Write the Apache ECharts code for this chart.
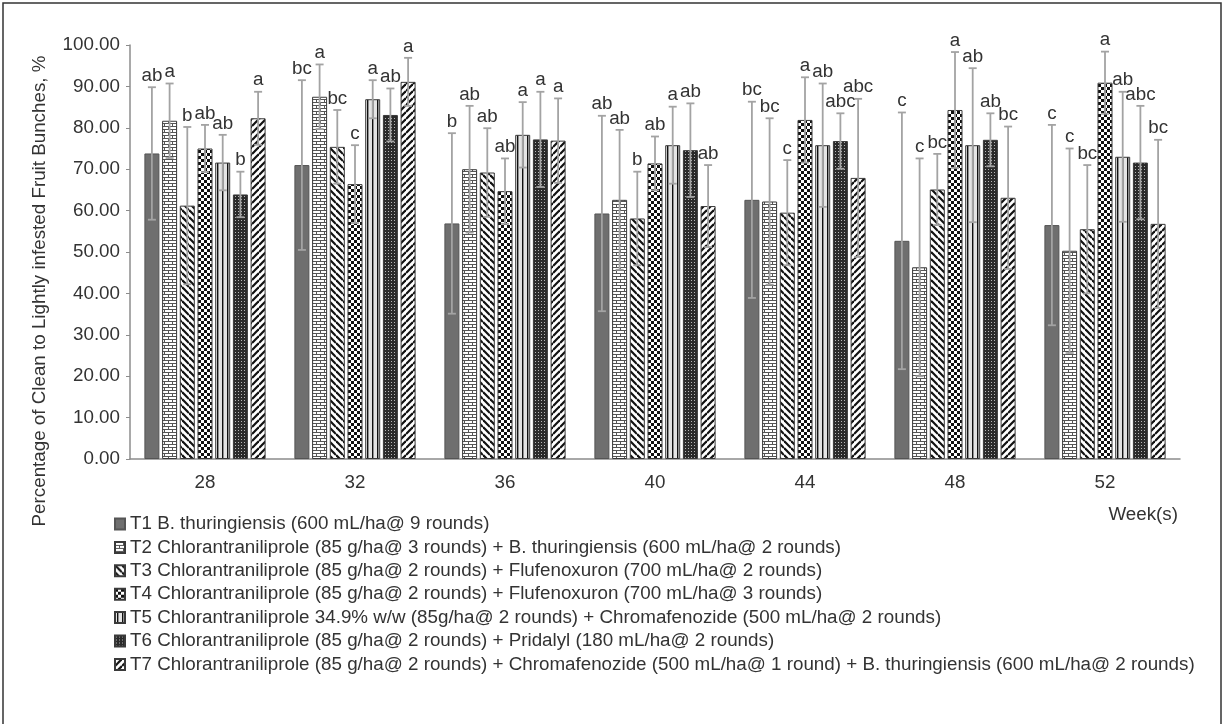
<!DOCTYPE html>
<html lang="en">
<head>
	<meta charset="UTF-8">
	<title>Clean to lightly infested fruit bunches</title>
	<style>
		html, body { margin: 0; padding: 0; background: #fff; }
	</style>
</head>
<body>
	<div id="main" style="width: 1223px;height: 724px"></div>
	<script src="https://cdn.jsdelivr.net/npm/echarts@6/dist/echarts.min.js"></script>
	<script>
		// weeks on the x axis
		var weeks = ['28', '32', '36', '40', '44', '48', '52'];
		var yTicks = [0, 10, 20, 30, 40, 50, 60, 70, 80, 90, 100];

		var treatments = [
			'T1 B. thuringiensis (600 mL/ha@ 9 rounds)',
			'T2 Chlorantraniliprole (85 g/ha@ 3 rounds) + B. thuringiensis (600 mL/ha@ 2 rounds)',
			'T3 Chlorantraniliprole (85 g/ha@ 2 rounds) + Flufenoxuron (700 mL/ha@ 2 rounds)',
			'T4 Chlorantraniliprole (85 g/ha@ 2 rounds) + Flufenoxuron (700 mL/ha@ 3 rounds)',
			'T5 Chlorantraniliprole 34.9% w/w (85g/ha@ 2 rounds) + Chromafenozide (500 mL/ha@ 2 rounds)',
			'T6 Chlorantraniliprole (85 g/ha@ 2 rounds) + Pridalyl (180 mL/ha@ 2 rounds)',
			'T7 Chlorantraniliprole (85 g/ha@ 2 rounds) + Chromafenozide (500 mL/ha@ 1 round) + B. thuringiensis (600 mL/ha@ 2 rounds)'
		];

		// means, error (+/-) and letters for each treatment, one value per week
		var t1 = [73.8, 71.0, 56.9, 59.3, 62.6, 52.7, 56.5];
		var t1Err = [16.0, 20.5, 21.8, 23.6, 23.7, 31.0, 24.2];
		var t1Sig = ['ab', 'bc', 'b', 'ab', 'bc', 'c', 'c'];

		var t2 = [81.7, 87.5, 70.0, 62.6, 62.2, 46.3, 50.3];
		var t2Err = [9.0, 7.8, 15.3, 16.9, 20.1, 26.3, 24.7];
		var t2Sig = ['a', 'a', 'ab', 'ab', 'bc', 'c', 'c'];

		var t3 = [61.2, 75.4, 69.2, 58.1, 59.5, 65.1, 55.5];
		var t3Err = [19.0, 8.9, 10.7, 11.3, 12.7, 8.6, 15.5];
		var t3Sig = ['b', 'bc', 'ab', 'b', 'c', 'bc', 'bc'];

		var t4 = [75.0, 66.4, 64.7, 71.4, 81.9, 84.3, 90.9];
		var t4Err = [5.7, 9.4, 7.9, 6.5, 10.3, 14.0, 7.5];
		var t4Sig = ['ab', 'c', 'ab', 'ab', 'a', 'a', 'a'];

		var t5 = [71.6, 86.9, 78.3, 75.8, 75.8, 75.8, 73.0];
		var t5Err = [6.7, 4.6, 7.9, 9.3, 14.9, 18.6, 15.7];
		var t5Sig = ['ab', 'a', 'a', 'a', 'ab', 'ab', 'ab'];

		var t6 = [63.9, 83.1, 77.2, 74.6, 76.8, 77.1, 71.6];
		var t6Err = [5.5, 6.4, 11.5, 11.3, 6.7, 6.4, 13.7];
		var t6Sig = ['b', 'ab', 'a', 'ab', 'abc', 'ab', 'abc'];

		var t7 = [82.3, 91.1, 76.9, 61.1, 67.9, 63.1, 56.8];
		var t7Err = [6.4, 5.8, 10.2, 9.9, 19.1, 17.2, 20.3];
		var t7Sig = ['a', 'a', 'a', 'ab', 'abc', 'bc', 'bc'];

		var means = [t1, t2, t3, t4, t5, t6, t7];
		var errs = [t1Err, t2Err, t3Err, t4Err, t5Err, t6Err, t7Err];
		var sigs = [t1Sig, t2Sig, t3Sig, t4Sig, t5Sig, t6Sig, t7Sig];

		var FONT = '"Liberation Sans", Arial, sans-serif';
		var FS = 18.8;
		var BAR_W = 15;
		var BAR_GAP = 0.18;

		// little canvas tiles for the bar fills
		function tile(w, h, draw) {
			var c = document.createElement('canvas');
			c.width = w;
			c.height = h;
			draw(c.getContext('2d'), w, h);
			return { image: c, repeat: 'repeat' };
		}

		var fills = [
			'#6f6f6f',
			tile(8, 6, function (g) {
				g.fillStyle = '#fff'; g.fillRect(0, 0, 8, 6);
				g.fillStyle = '#555';
				g.fillRect(0, 0, 8, 1); g.fillRect(0, 3, 8, 1);
				g.fillRect(0, 0, 1, 3); g.fillRect(4, 3, 1, 3);
			}),
			tile(7, 7, function (g, s) {
				g.fillStyle = '#fff'; g.fillRect(0, 0, s, s);
				g.strokeStyle = '#111'; g.lineWidth = 2.2;
				[-1, 0, 1].forEach(function (k) {
					g.beginPath(); g.moveTo(0, k * s); g.lineTo(s, s + k * s); g.stroke();
				});
			}),
			tile(6, 6, function (g) {
				g.fillStyle = '#fff'; g.fillRect(0, 0, 6, 6);
				g.fillStyle = '#111'; g.fillRect(0, 0, 3, 3); g.fillRect(3, 3, 3, 3);
			}),
			tile(5, 2, function (g) {
				g.fillStyle = '#e4e4e4'; g.fillRect(0, 0, 5, 2);
				g.fillStyle = '#111'; g.fillRect(2, 0, 1.4, 2);
			}),
			tile(3, 3, function (g) {
				g.fillStyle = '#2a2a2a'; g.fillRect(0, 0, 3, 3);
				g.fillStyle = '#b5b5b5'; g.fillRect(1, 1, 1, 1);
			}),
			tile(7, 7, function (g, s) {
				g.fillStyle = '#fff'; g.fillRect(0, 0, s, s);
				g.strokeStyle = '#111'; g.lineWidth = 2.2;
				[0, 1, 2].forEach(function (k) {
					g.beginPath(); g.moveTo(0, k * s); g.lineTo(s, k * s - s); g.stroke();
				});
			})
		];

		var series = treatments.map(function (name, i) {
			return {
				name: name,
				type: 'bar',
				barWidth: BAR_W,
				barGap: (BAR_GAP * 100) + '%',
				itemStyle: {
					color: fills[i],
					borderColor: i === 0 ? '#555' : '#3a3a3a',
					borderWidth: 1
				},
				data: means[i]
			};
		});

		// error bars + letters
		var errItems = [];
		means.forEach(function (arr, i) {
			arr.forEach(function (v, w) {
				errItems.push([w, i, v, errs[i][w]]);
			});
		});

		series.push({
			type: 'custom',
			silent: true,
			encode: { x: 0, y: 2 },
			z: 5,
			data: errItems,
			renderItem: function (params, api) {
				var w = api.value(0), i = api.value(1), v = api.value(2), e = api.value(3);
				var step = BAR_W * (1 + BAR_GAP);
				var x = api.coord([w, v])[0] + (i - 3) * step;
				var yHi = api.coord([w, v + e])[1];
				var yLo = api.coord([w, v - e])[1];
				var ls = { stroke: '#a3a3a3', lineWidth: 1.8 };
				return {
					type: 'group',
					children: [
						{ type: 'line', shape: { x1: x, y1: yLo, x2: x, y2: yHi }, style: ls },
						{ type: 'line', shape: { x1: x - 4, y1: yHi, x2: x + 4, y2: yHi }, style: ls },
						{ type: 'line', shape: { x1: x - 4, y1: yLo, x2: x + 4, y2: yLo }, style: ls },
						{
							type: 'text',
							style: {
								text: sigs[i][w], x: x, y: yHi - 2,
								align: 'center', verticalAlign: 'bottom',
								fontFamily: FONT, fontSize: FS, fill: '#333'
							}
						}
					]
				};
			}
		});

		var myChart = echarts.init(document.getElementById('main'));
		var option = {
			animation: false,
			grid: { left: 130, top: 45, width: 1050, height: 414 },
			legend: {
				orient: 'vertical',
				left: 114,
				top: 514,
				padding: 0,
				itemWidth: 10,
				itemHeight: 11,
				itemGap: 3.4,
				selectedMode: false,
				icon: 'rect',
				data: treatments,
				textStyle: { fontFamily: FONT, fontSize: FS, lineHeight: 20, color: '#333' }
			},
			xAxis: {
				type: 'category',
				data: weeks,
				axisLine: { lineStyle: { color: '#8c8c8c', width: 1.5 } },
				axisTick: { inside: true, length: 5, lineStyle: { color: '#8c8c8c' } },
				axisLabel: { margin: 14, fontFamily: FONT, fontSize: FS, color: '#333' }
			},
			yAxis: {
				type: 'value',
				min: yTicks[0],
				max: yTicks[yTicks.length - 1],
				interval: yTicks[1] - yTicks[0],
				splitLine: { show: false },
				axisLine: { show: true, lineStyle: { color: '#8c8c8c', width: 1.5 } },
				axisTick: { show: true, length: 4, lineStyle: { color: '#8c8c8c' } },
				axisLabel: {
					margin: 10, fontFamily: FONT, fontSize: FS, color: '#333',
					formatter: function (v) { return v.toFixed(2); }
				}
			},
			graphic: [
				{
					type: 'rect',
					shape: { x: 3, y: 3, width: 1218, height: 740 },
					style: { fill: 'none', stroke: '#333', lineWidth: 1.5 },
					silent: true
				},
				{
					type: 'text',
					x: 40, y: 291,
					rotation: Math.PI / 2,
					style: {
						text: 'Percentage of Clean to Lightly infested Fruit Bunches, %',
						align: 'center', verticalAlign: 'middle',
						fontFamily: FONT, fontSize: FS, fill: '#333'
					}
				},
				{
					type: 'text',
					x: 1178, y: 515,
					style: {
						text: 'Week(s)',
						align: 'right', verticalAlign: 'middle',
						fontFamily: FONT, fontSize: FS, fill: '#333'
					}
				}
			],
			series: series
		};

		myChart.setOption(option);
	</script>
</body>
</html>
